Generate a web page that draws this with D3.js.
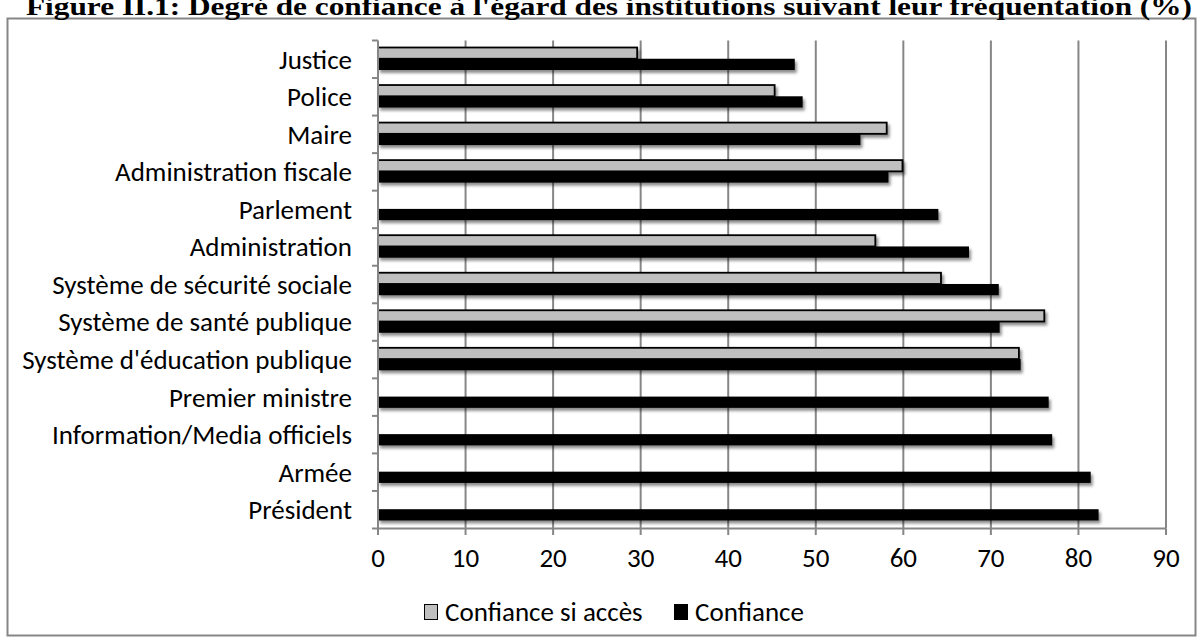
<!DOCTYPE html>
<html>
<head>
<meta charset="utf-8">
<script src="https://cdn.jsdelivr.net/npm/d3@7"></script>
<style>
  html, body { margin: 0; padding: 0; background: #fff; }
  svg { display: block; }
</style>
</head>
<body>
<svg id="chart" width="1204" height="644"></svg>
<script>
const title = "Figure II.1: Degré de confiance à l'égard des institutions suivant leur fréquentation (%)";
const categories = [
  "Justice", "Police", "Maire", "Administration fiscale", "Parlement",
  "Administration", "Système de sécurité sociale", "Système de santé publique",
  "Système d'éducation publique", "Premier ministre", "Information/Media officiels",
  "Armée", "Président"
];
const seriesNames = ["Confiance si accès", "Confiance"];
const confianceSiAcces = [29.6, 45.3, 58.1, 59.9, null, 56.8, 64.3, 76.1, 73.2, null, null, null, null];
const confiance = [47.6, 48.5, 55.1, 58.3, 64.0, 67.5, 70.9, 71.0, 73.4, 76.6, 77.0, 81.4, 82.3];
const xTicks = [0, 10, 20, 30, 40, 50, 60, 70, 80, 90];

const seriesValues = [confianceSiAcces, confiance];
const seriesFill = ["#bfbfbf", "#000000"];
const font = "Carlito, Lato, 'Open Sans', sans-serif";
const gridColor = "#868686";
const fs = 27;

const svg = d3.select("#chart");

// shadow filter
const defs = svg.append("defs");
const f = defs.append("filter").attr("id", "shadow")
  .attr("x", "-5%").attr("y", "-50%").attr("width", "115%").attr("height", "250%");
f.append("feDropShadow").attr("dx", 2).attr("dy", 3).attr("stdDeviation", 1.8)
  .attr("flood-color", "#000").attr("flood-opacity", 0.45);

// outer frame
svg.append("rect").attr("x", 7.5).attr("y", 18.5).attr("width", 1188).attr("height", 617)
  .attr("fill", "#fff").attr("stroke", gridColor).attr("stroke-width", 2);

// title
svg.append("text").attr("x", 26).attr("y", 14.5)
  .attr("font-family", "'Liberation Serif', 'DejaVu Serif', serif")
  .attr("font-weight", "bold").attr("font-size", 25)
  .attr("textLength", 1166).attr("lengthAdjust", "spacingAndGlyphs")
  .attr("fill", "#000").text(title);

const x = d3.scaleLinear().domain([0, 90]).range([378, 1166]);
const y = d3.scaleBand().domain(categories).range([40.5, 528.5]);
const ySub = d3.scaleBand().domain(seriesNames).range([7, 29.5]);

// gridlines
svg.append("g").selectAll("line").data(xTicks.slice(1)).join("line")
  .attr("x1", d => x(d)).attr("x2", d => x(d))
  .attr("y1", 40.5).attr("y2", 528.5)
  .attr("stroke", gridColor).attr("stroke-width", 2);

// bars
const rows = categories.map((c, i) => ({ c, vals: seriesValues.map((s, k) => ({ k, v: s[i] })) }));
const gRows = svg.append("g").selectAll("g").data(rows).join("g")
  .attr("transform", d => `translate(0,${y(d.c)})`);
gRows.selectAll("rect").data(d => d.vals.filter(e => e.v != null)).join("rect")
  .attr("x", x(0))
  .attr("y", d => ySub(seriesNames[d.k]))
  .attr("width", d => x(d.v) - x(0))
  .attr("height", ySub.bandwidth())
  .attr("fill", d => seriesFill[d.k])
  .attr("stroke", d => d.k === 0 ? "#000" : "none")
  .attr("stroke-width", 1.8)
  .attr("filter", "url(#shadow)");

// y axis
const yAxis = svg.append("g");
yAxis.append("line").attr("x1", x(0)).attr("x2", x(0)).attr("y1", 40.5).attr("y2", 528.5)
  .attr("stroke", gridColor).attr("stroke-width", 2);
const bounds = categories.map(c => y(c)).concat([y(categories[categories.length - 1]) + y.bandwidth()]);
yAxis.selectAll("line.tk").data(bounds).join("line").attr("class", "tk")
  .attr("x1", x(0) - 6).attr("x2", x(0)).attr("y1", d => d).attr("y2", d => d)
  .attr("stroke", gridColor).attr("stroke-width", 2);
yAxis.selectAll("text").data(categories).join("text")
  .attr("x", 352).attr("y", d => y(d) + y.bandwidth() / 2)
  .attr("dy", "0.35em").attr("text-anchor", "end")
  .attr("font-family", font).attr("font-size", fs).attr("fill", "#000")
  .text(d => d);

// x axis
const xAxis = svg.append("g");
xAxis.append("line").attr("x1", x(0) - 1).attr("x2", x(90)).attr("y1", 528.5).attr("y2", 528.5)
  .attr("stroke", gridColor).attr("stroke-width", 2);
xAxis.selectAll("line.tk").data(xTicks).join("line").attr("class", "tk")
  .attr("x1", d => x(d)).attr("x2", d => x(d)).attr("y1", 528.5).attr("y2", 535)
  .attr("stroke", gridColor).attr("stroke-width", 2);
xAxis.selectAll("text").data(xTicks).join("text")
  .attr("x", d => x(d)).attr("y", 558).attr("dy", "0.35em").attr("text-anchor", "middle")
  .attr("font-family", font).attr("font-size", fs).attr("fill", "#000")
  .text(d => d);

// legend
const legendX = [424, 674];
const lg = svg.append("g").selectAll("g").data(seriesNames).join("g")
  .attr("transform", (d, i) => `translate(${legendX[i]},612)`);
lg.append("rect").attr("x", 0.5).attr("y", -7.5).attr("width", 13).attr("height", 15)
  .attr("fill", (d, i) => seriesFill[i]).attr("stroke", "#000").attr("stroke-width", 1);
lg.append("text").attr("x", 21).attr("y", 0).attr("dy", "0.35em")
  .attr("font-family", font).attr("font-size", fs).attr("fill", "#000")
  .text(d => d);
</script>
</body>
</html>
